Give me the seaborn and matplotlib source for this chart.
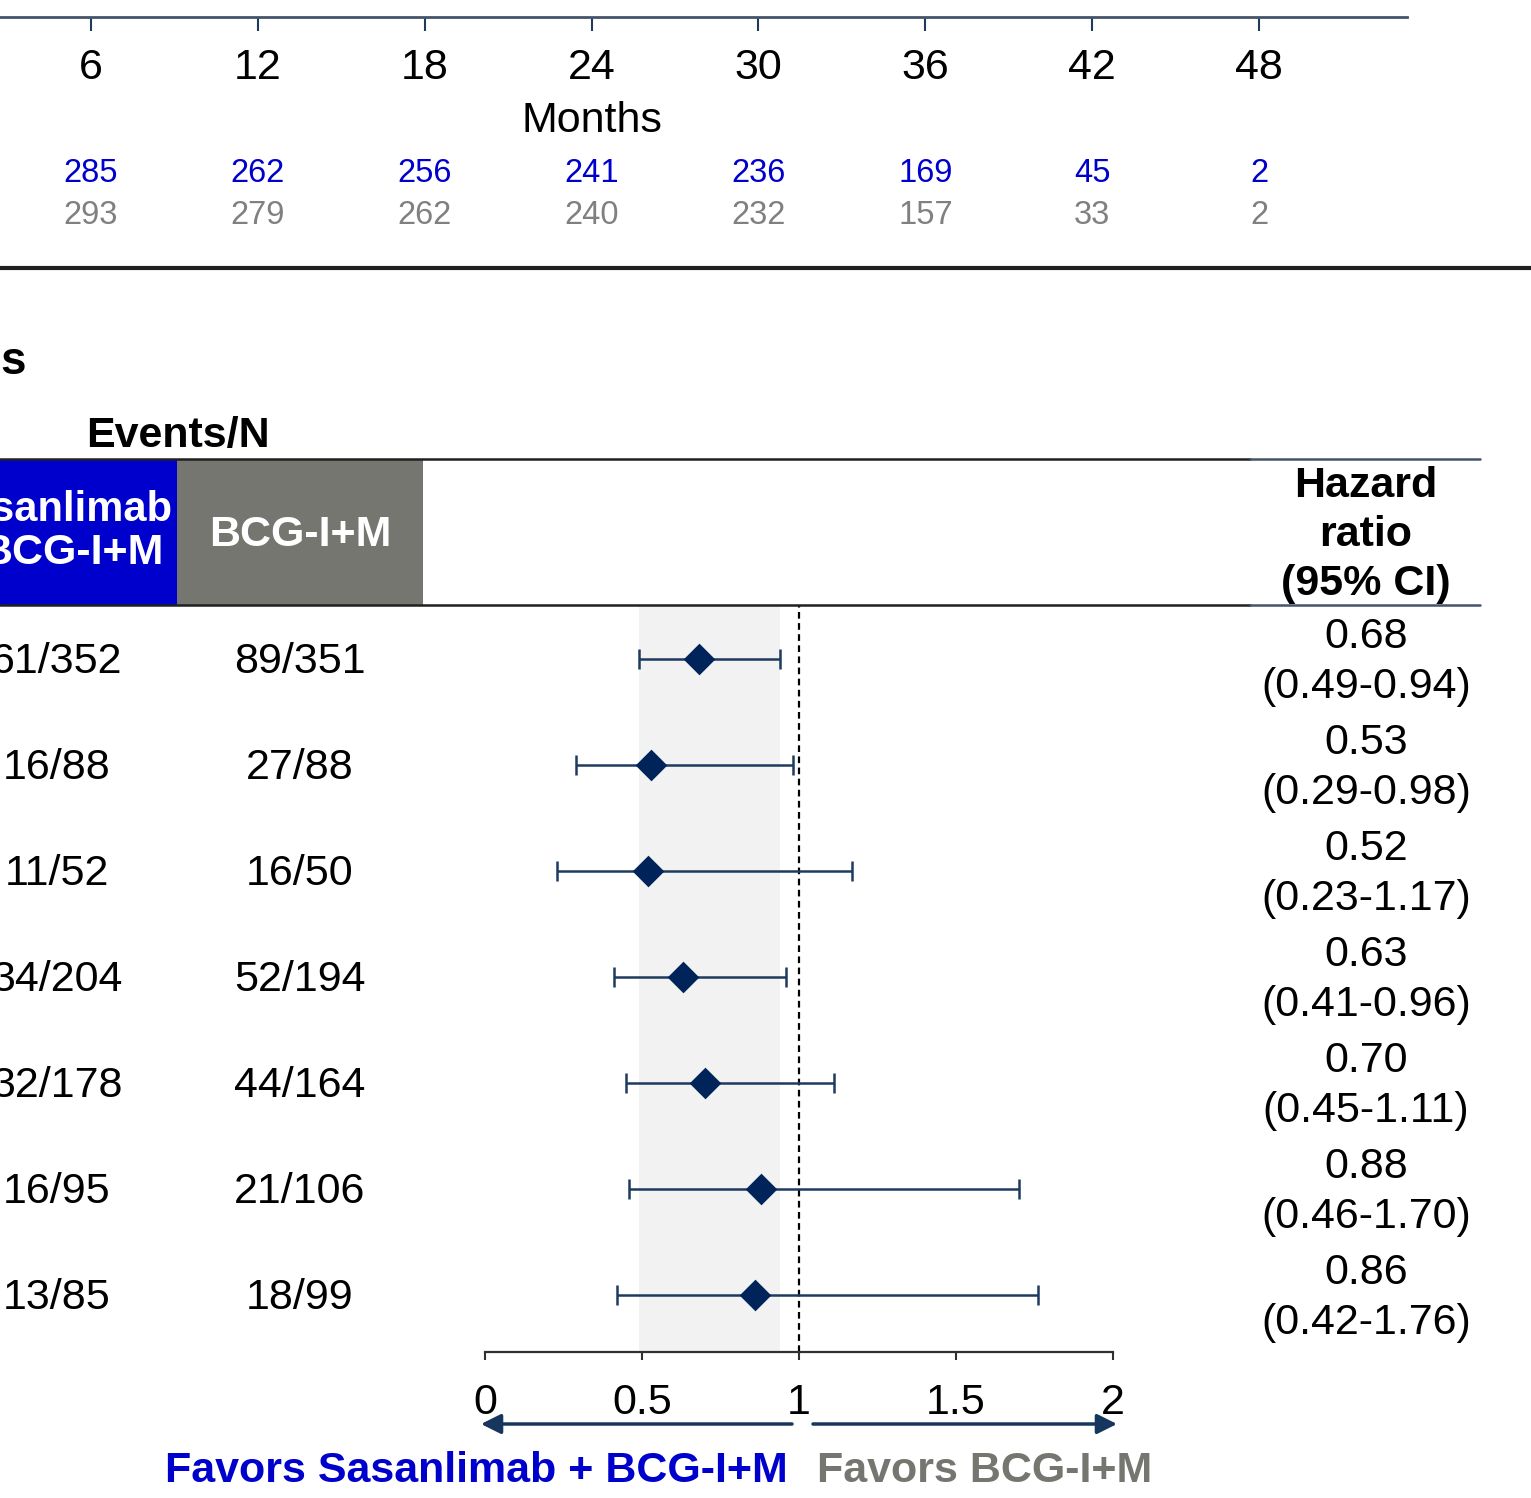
import numpy as np
import matplotlib
matplotlib.use('Agg')
import matplotlib.pyplot as plt
from matplotlib.lines import Line2D
from matplotlib.patches import Rectangle, FancyArrowPatch
import matplotlib.transforms as mtransforms
import seaborn as sns

# number at risk under the KM plot
months = [6, 12, 18, 24, 30, 36, 42, 48]
risk_sasan = [285, 262, 256, 241, 236, 169, 45, 2]
risk_bcg = [293, 279, 262, 240, 232, 157, 33, 2]

# forest plot rows
events_sasan = ['61/352', '16/88', '11/52', '34/204', '32/178', '16/95', '13/85']
events_bcg = ['89/351', '27/88', '16/50', '52/194', '44/164', '21/106', '18/99']
hr = np.array([0.68, 0.53, 0.52, 0.63, 0.70, 0.88, 0.86])
hr_lo = np.array([0.49, 0.29, 0.23, 0.41, 0.45, 0.46, 0.42])
hr_hi = np.array([0.94, 0.98, 1.17, 0.96, 1.11, 1.70, 1.76])
hr_ticks = [0, 0.5, 1, 1.5, 2]
hr_ticklabels = ['0', '0.5', '1', '1.5', '2']

sns.set_style('white')
plt.rcParams['font.family'] = ['Liberation Sans', 'DejaVu Sans']
plt.rcParams['text.color'] = 'black'
plt.rcParams['axes.labelcolor'] = 'black'
plt.rcParams['xtick.color'] = 'black'
plt.rcParams['xtick.labelcolor'] = 'black'

BLUE = '#0000CC'
GREY = '#767671'
NAVY = '#00245A'
LINE = '#1F3A5F'
FS = 31

W, H = 1531, 1498
fig = plt.figure(figsize=(W / 100, H / 100), dpi=100)


def fx(px):
    return px / W


def fy(py):
    return 1 - py / H


# %% bottom of the KM plot: months axis + numbers at risk
x0_px = 91 - 6 * 1168 / 42
km_right = 53.32
ax_km = fig.add_axes([fx(x0_px), fy(17), fx(1407 - x0_px), 0.3])
ax_km.set_xlim(0, km_right)
ax_km.set_ylim(0, 1)
for s in ['top', 'left', 'right']:
    ax_km.spines[s].set_visible(False)
ax_km.spines['bottom'].set_color('#44546A')
ax_km.spines['bottom'].set_linewidth(2)
ax_km.set_yticks([])
ax_km.set_xticks(months)
ax_km.set_xticks([12, 24, 36], minor=True)
ax_km.tick_params(axis='x', which='major', direction='out', length=10, width=1.5,
                  color='#1F3A5F', labelsize=FS, pad=12, bottom=True)
ax_km.tick_params(axis='x', which='minor', direction='in', length=10, width=1.5,
                  color='#1F3A5F', bottom=True, labelbottom=False)

trans = mtransforms.blended_transform_factory(ax_km.transData, fig.transFigure)
ax_km.text(24, fy(121), 'Months', transform=trans, ha='center', va='center',
           fontsize=FS, clip_on=False)
for m, a, b in zip(months, risk_sasan, risk_bcg):
    ax_km.text(m, fy(174), str(a), transform=trans, ha='center', va='center',
               fontsize=23.5, color=BLUE, clip_on=False)
    ax_km.text(m, fy(216), str(b), transform=trans, ha='center', va='center',
               fontsize=23.5, color='#808080', clip_on=False)

fig.add_artist(Line2D([0, 1], [fy(268), fy(268)], color='#202020', lw=3))

# %% forest plot header
fig.text(fx(0), fy(362), 's', fontsize=33, fontweight='bold', ha='left', va='center')
fig.text(fx(178), fy(436), 'Events/N', fontsize=FS, fontweight='bold', ha='center', va='center')

fig.add_artist(Rectangle((fx(-5), fy(605)), fx(182), fy(459) - fy(605),
                         transform=fig.transFigure, color=BLUE, lw=0))
fig.add_artist(Rectangle((fx(177), fy(605)), fx(246), fy(459) - fy(605),
                         transform=fig.transFigure, color=GREY, lw=0))
fig.text(fx(173), fy(510), 'Sasanlimab', fontsize=30, fontweight='bold',
         color='white', ha='right', va='center')
fig.text(fx(163), fy(553), 'BCG-I+M', fontsize=FS, fontweight='bold',
         color='white', ha='right', va='center')
fig.text(fx(300), fy(535), 'BCG-I+M', fontsize=FS, fontweight='bold',
         color='white', ha='center', va='center')
for yy in [459, 605]:
    fig.add_artist(Line2D([0, fx(1250)], [fy(yy), fy(yy)], color='#202020', lw=1.8))
    fig.add_artist(Line2D([fx(1250), fx(1480)], [fy(yy), fy(yy)], color='#44546A', lw=1.8))
fig.text(fx(1366), fy(535), 'Hazard\nratio\n(95% CI)', fontsize=FS, fontweight='bold',
         ha='center', va='center', linespacing=1.3)

# %% forest plot
row_y = np.arange(len(hr))
ax = fig.add_axes([fx(485), fy(1352), fx(1113 - 485), fy(605) - fy(1352)])
ax.set_xlim(0, 2)
ax.set_ylim((1352 - 659) / 106, (605 - 659) / 106)
ax.axvspan(hr_lo[0], hr_hi[0], color='#F2F2F2', lw=0, zorder=0)
ax.axvline(1, color='black', ls=(0, (3, 2)), lw=1.6, zorder=1)
ax.errorbar(hr, row_y, xerr=[hr - hr_lo, hr_hi - hr], fmt='none', ecolor=LINE,
            elinewidth=1.8, capsize=7, capthick=1.8, zorder=2)
sns.scatterplot(x=hr, y=row_y, marker='D', s=260, color=NAVY, edgecolor=NAVY,
                linewidth=0, zorder=3, ax=ax, legend=False)
for s in ['top', 'left', 'right']:
    ax.spines[s].set_visible(False)
ax.spines['bottom'].set_color('#303030')
ax.spines['bottom'].set_linewidth(1.6)
ax.set_yticks([])
ax.set_xticks(hr_ticks)
ax.set_xticklabels(hr_ticklabels)
ax.tick_params(axis='x', direction='out', length=6, width=1.5, color='#303030',
               labelsize=FS, pad=16, bottom=True)
ax.set_xlabel('')
ax.set_ylabel('')

for i in range(len(hr)):
    yy = 659 + 106 * i
    fig.text(fx(57), fy(yy + 3), events_sasan[i], fontsize=FS, ha='center', va='center')
    fig.text(fx(300), fy(yy + 3), events_bcg[i], fontsize=FS, ha='center', va='center')
    fig.text(fx(1366), fy(yy + 3), f'{hr[i]:.2f}\n({hr_lo[i]:.2f}-{hr_hi[i]:.2f})',
             fontsize=FS, ha='center', va='center', linespacing=1.3)

# favors arrows and labels
arrow_kw = dict(arrowstyle='-|>', color='#17365D', lw=2.5, mutation_scale=30,
                shrinkA=0, shrinkB=0)
fig.add_artist(FancyArrowPatch((fx(792), fy(1424)), (fx(481), fy(1424)),
                               transform=fig.transFigure, **arrow_kw))
fig.add_artist(FancyArrowPatch((fx(813), fy(1424)), (fx(1117), fy(1424)),
                               transform=fig.transFigure, **arrow_kw))
fig.text(fx(788), fy(1471), 'Favors Sasanlimab + BCG-I+M', fontsize=FS, fontweight='bold',
         color=BLUE, ha='right', va='center')
fig.text(fx(817), fy(1471), 'Favors BCG-I+M', fontsize=FS, fontweight='bold',
         color=GREY, ha='left', va='center')

fig.savefig('out.png', dpi=100)
